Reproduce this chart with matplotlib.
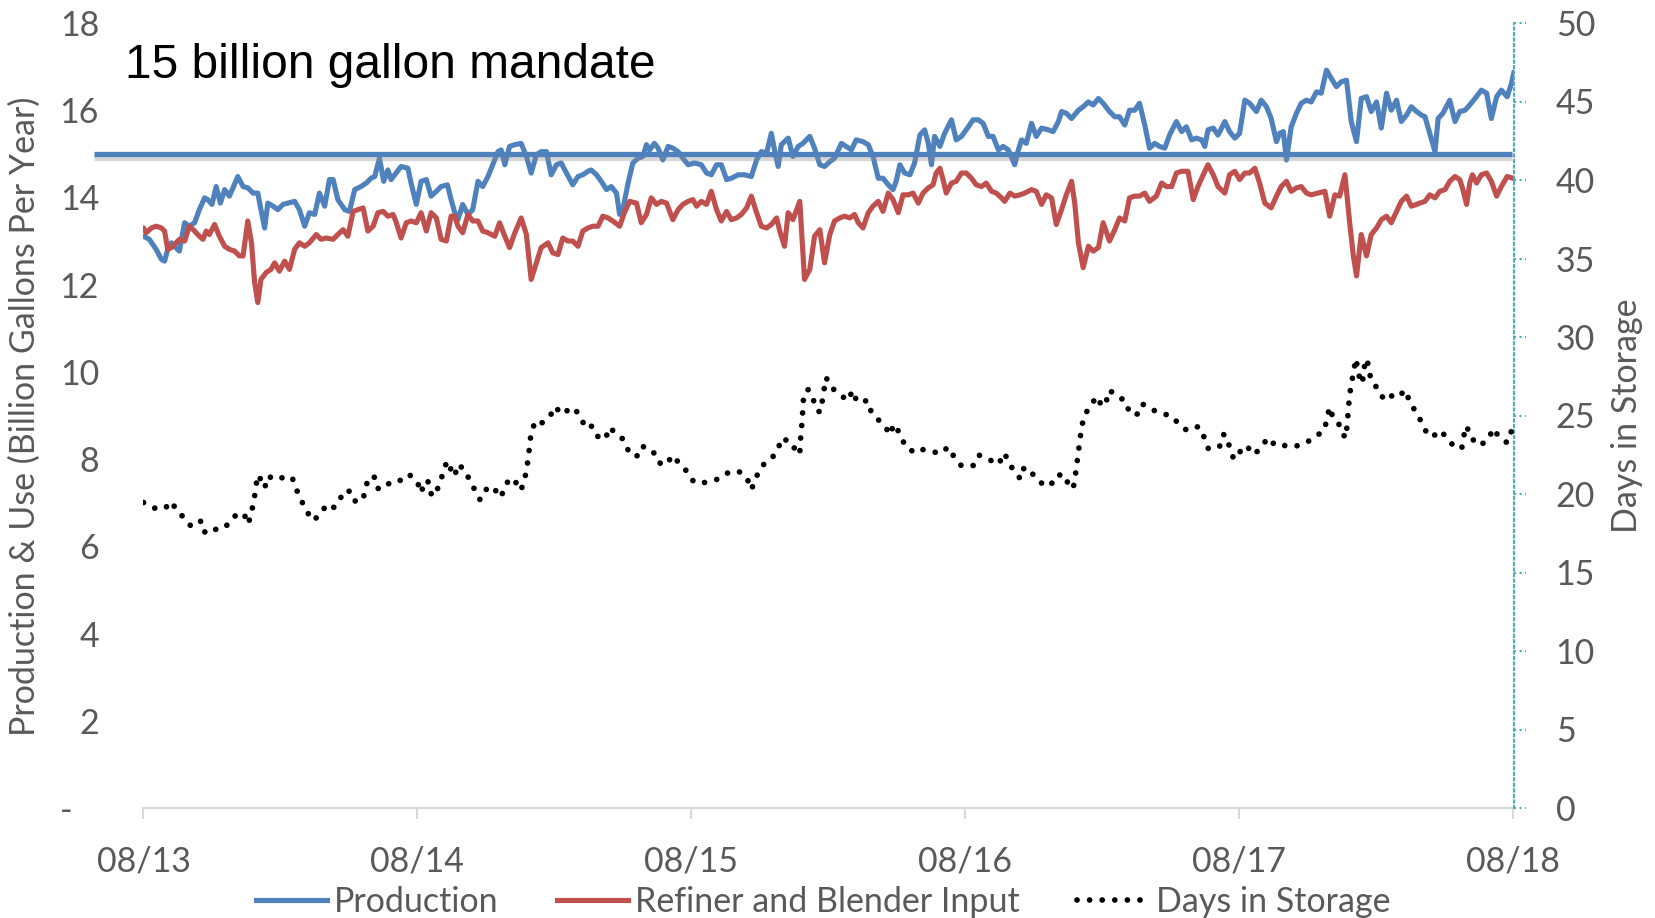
import matplotlib
matplotlib.use('Agg')
import matplotlib.pyplot as plt
import matplotlib.patheffects as pe
import matplotlib.transforms as mtransforms
from matplotlib.lines import Line2D

plt.rcParams['font.family'] = ['Lato', 'DejaVu Sans']

# ---------------- data ----------------
x_tick_weeks = [0, 52, 104, 156, 208, 260]
x_tick_labels = ['08/13', '08/14', '08/15', '08/16', '08/17', '08/18']
left_ticks = [0, 2, 4, 6, 8, 10, 12, 14, 16, 18]
left_tick_labels = ['-   ', '2', '4', '6', '8', '10', '12', '14', '16', '18']
right_ticks = [0, 5, 10, 15, 20, 25, 30, 35, 40, 45, 50]
MANDATE = 15

prod_week = [0, 1.1, 2.4, 3.4, 4.0, 4.6, 5.3, 5.9, 6.8, 7.8, 8.7, 9.7, 10.6, 11.6, 12.2, 13.0, 13.8, 14.6, 15.4, 16.3,
             17.0, 17.9, 18.9, 19.8, 20.8, 21.7, 22.3, 23.0, 23.6, 24.6, 25.5, 26.5, 27.4, 28.7, 29.6, 30.6, 31.5, 32.5, 33.4, 34.4,
             35.3, 36.0, 36.9, 38.2, 39.1, 40.1, 41.3, 42.3, 43.2, 43.9, 44.8, 45.6, 46.4, 47.0, 47.7, 48.9, 50.2, 50.8, 51.8, 52.7,
             53.7, 54.6, 55.6, 56.5, 57.7, 58.4,
             59.1, 59.7, 60.6, 61.6, 62.5, 63.5, 64.4, 65.4, 66.3, 67.3, 67.9, 68.6, 69.5, 70.5, 71.7, 72.7, 73.6, 74.6, 75.5, 76.5,
             77.4, 78.4, 79.3, 80.3, 81.5, 82.5, 83.4, 84.4, 85.0, 86.0, 86.9, 87.9, 88.8, 89.8, 90.4, 91.0, 92.0, 92.9, 93.9, 94.8,
             95.5, 96.1, 97.0, 97.7, 98.6, 99.6, 100.5, 101.5, 102.4, 103.4, 104.6, 105.9, 106.9, 107.8, 108.8, 109.7, 110.7, 111.6,
             112.9, 114.1, 115.4, 116.4, 117.3, 118.3, 119.2, 119.8, 120.5, 121.1,
             122.4, 123.3, 124.3, 125.2, 126.5, 127.4, 128.4, 129.3, 130.3, 131.2, 132.5, 133.4, 134.4, 135.3, 136.6, 137.6, 138.5,
             139.5, 140.4, 141.4, 142.3, 142.9, 143.6, 144.5, 145.5, 146.4, 147.4, 148.3, 149.0, 149.6, 150.2, 151.2, 152.1, 153.4,
             154.3, 155.3, 156.6, 157.5, 158.5, 159.4, 160.4, 161.3, 162.3, 163.2, 164.2, 165.4, 166.1, 166.7, 167.6, 168.6, 169.5,
             170.5, 171.8, 172.7, 173.7, 174.3, 175.2, 176.2, 177.5, 178.4, 179.4, 180.3, 181.3, 182.2,
             183.4, 184.4, 185.3, 186.3, 187.2, 188.2, 189.1, 190.1, 191.0, 192.0, 192.9, 193.9, 194.8, 196.1, 197.1, 198.0, 199.0,
             199.9, 200.9, 201.5, 202.1, 203.1, 204.0, 205.3, 206.2, 207.2, 208.1, 209.1, 210.0, 211.3, 212.2, 213.2, 214.1, 215.1,
             215.7, 216.4, 217.0, 217.9, 218.9, 219.8, 220.8, 221.7, 222.7, 223.6, 224.6, 225.5, 226.5, 227.4, 228.4, 229.3, 230.3,
             231.2, 232.2, 233.1, 234.1, 235.0, 236.0, 236.9, 237.9, 238.8, 239.8, 240.7, 241.7, 242.6,
             243.3, 244.2, 245.2, 245.8, 246.7, 248.0, 249.0, 249.9, 250.9, 251.8, 252.8, 254.0, 255.0, 255.9, 256.9, 257.8, 258.9,
             259.7, 260.2]
prod_val = [13.11, 13.04, 12.81, 12.58, 12.54, 12.81, 12.96, 12.88, 12.77, 13.42, 13.34, 13.42, 13.72, 13.99, 13.95, 13.84, 14.25, 13.87, 14.18, 14.03,
            14.22, 14.48, 14.25, 14.22, 14.10, 14.10, 13.72, 13.30, 13.87, 13.80, 13.72, 13.84, 13.87, 13.91, 13.72, 13.34, 13.65, 13.61, 14.10, 13.80,
            14.41, 14.41, 13.95, 13.72, 13.68, 14.18, 14.25, 14.33, 14.44, 14.48, 14.90, 14.37, 14.63, 14.41, 14.52, 14.71, 14.67, 14.33, 13.84, 14.37,
            14.41, 14.03, 14.14, 14.25, 14.29, 13.95,
            13.65, 13.49, 13.84, 13.61, 13.72, 14.37, 14.25, 14.48, 14.75, 15.05, 15.09, 14.75, 15.17, 15.21, 15.24, 14.94, 14.56, 14.98, 15.05, 15.05,
            14.52, 14.75, 14.79, 14.56, 14.29, 14.48, 14.52, 14.60, 14.63, 14.52, 14.37, 14.18, 14.25, 14.10, 13.61, 13.72, 14.33, 14.79, 14.90, 14.94,
            15.21, 15.09, 15.24, 15.13, 14.86, 15.17, 15.13, 15.05, 14.90, 14.75, 14.79, 14.75, 14.56, 14.52, 14.75, 14.75, 14.41, 14.44,
            14.52, 14.52, 14.48, 14.86, 15.05, 15.02, 15.47, 15.09, 14.71, 15.21,
            15.36, 14.94, 15.17, 15.24, 15.40, 15.13, 14.75, 14.71, 14.82, 14.90, 15.24, 15.17, 15.09, 15.32, 15.28, 15.21, 14.94,
            14.44, 14.44, 14.29, 14.18, 14.37, 14.75, 14.56, 14.52, 14.79, 15.43, 15.55, 15.24, 14.75, 15.40, 15.17, 15.47, 15.78,
            15.32, 15.40, 15.62, 15.78, 15.78, 15.70, 15.40, 15.40, 15.09, 15.17, 15.09, 14.75, 15.09, 15.32, 15.24, 15.70, 15.40,
            15.59, 15.55, 15.51, 15.74, 15.97, 15.93, 15.81, 16.00, 16.08, 16.19, 16.12, 16.27, 16.16,
            15.97, 15.85, 15.85, 15.66, 16.00, 16.00, 16.16, 15.66, 15.13, 15.24, 15.17, 15.13, 15.43, 15.74, 15.51, 15.62, 15.32,
            15.36, 15.32, 15.17, 15.55, 15.59, 15.43, 15.74, 15.51, 15.36, 15.47, 16.23, 16.16, 15.97, 16.23, 16.08, 15.81, 15.28,
            15.47, 15.51, 14.86, 15.62, 15.93, 16.16, 16.23, 16.19, 16.42, 16.39, 16.92, 16.73, 16.54, 16.65, 16.69, 15.74, 15.28,
            16.27, 16.31, 15.97, 16.19, 15.59, 16.39, 16.00, 16.23, 15.74, 15.89, 16.08, 15.97, 15.89,
            15.85, 15.47, 15.05, 15.81, 15.93, 16.23, 15.74, 15.97, 16.00, 16.12, 16.27, 16.46, 16.39, 15.81, 16.31, 16.46, 16.31,
            16.61, 16.88]

ref_week = [0, 0.5, 1.5, 2.4, 3.4, 4.0, 4.6, 5.3, 6.2, 6.8, 7.8, 8.7, 9.7, 10.6, 11.3, 11.9, 12.5, 13.5, 14.4, 15.4,
            16.3, 17.3, 18.2, 18.9, 19.8, 20.5, 21.1, 21.7, 22.3, 23.3, 24.2, 24.9, 25.8, 26.8, 27.7, 28.7, 29.6, 30.6, 31.5, 32.8,
            33.7, 34.7, 36.0, 36.9, 37.9, 38.8, 39.8, 40.7, 41.7, 42.6, 43.6, 44.5, 45.5, 46.4, 47.4, 48.0, 48.9, 49.9, 50.8, 51.8,
            52.7, 53.7, 54.6, 55.6, 56.5, 57.5, 58.4,
            59.1, 59.7, 60.6, 61.6, 62.5, 63.5, 64.4, 65.4, 66.7, 67.6, 68.6, 69.5, 70.5, 71.7, 72.7, 73.6, 74.6, 75.5, 76.8, 77.7,
            78.7, 79.6, 80.6, 81.5, 82.5, 83.4, 84.4, 85.3, 86.3, 87.2, 88.2, 89.1, 90.4, 91.3, 92.3, 93.6, 94.5, 95.5, 96.4, 97.4,
            98.3, 99.3, 100.5, 101.5, 102.4, 103.4, 104.3, 105.0, 105.9, 106.9, 107.8, 108.8, 109.7, 110.7, 111.6, 112.6, 113.5,
            114.5, 115.4, 116.4, 117.3, 118.3, 119.2, 120.2, 120.8, 121.7,
            122.4, 123.3, 124.6, 125.5, 126.5, 127.4, 128.4, 129.3, 130.3, 131.2, 132.2, 133.1, 134.1, 135.0, 135.7, 136.6, 137.6,
            138.5, 139.5, 140.4, 141.4, 142.3, 143.3, 144.2, 145.2, 146.1, 147.1, 148.0, 149.0, 149.9, 150.5, 151.2, 151.8, 152.4,
            153.4, 154.3, 155.3, 156.2, 157.2, 158.1, 159.1, 160.0, 161.0, 161.9, 162.9, 163.5, 164.5, 165.4, 166.4, 167.3, 168.6,
            169.5, 170.5, 171.4, 172.4, 173.3, 174.3, 175.2, 176.2, 176.8, 177.5, 178.4, 179.4, 180.3, 181.3, 182.2,
            183.4, 184.4, 185.3, 186.3, 187.2, 188.2, 189.1, 190.1, 191.0, 192.3, 193.3, 194.2, 195.2, 196.1, 197.1, 198.3, 199.3,
            200.2, 201.2, 202.1, 203.1, 204.0, 205.3, 206.2, 207.2, 208.1, 209.1, 210.0, 211.0, 211.9, 212.9, 214.1, 215.1, 216.0,
            217.0, 217.9, 218.9, 219.8, 220.8, 221.7, 223.0, 224.3, 225.2, 226.2, 227.1, 228.1, 229.0, 229.7, 230.3, 231.2, 232.2,
            233.1, 234.1, 235.0, 236.0, 236.9, 237.9, 238.8, 239.8, 240.7, 241.7,
            242.3, 243.3, 244.2, 245.2, 246.1, 247.1, 248.0, 249.0, 249.9, 250.5, 251.2, 251.8, 252.3, 253.1, 254.0, 255.0, 255.9,
            256.9, 257.8, 258.9, 260.0]
ref_val = [13.30, 13.19, 13.30, 13.34, 13.30, 13.23, 12.81, 12.85, 12.96, 13.04, 13.00, 13.34, 13.23, 13.11, 13.04, 13.23, 13.15, 13.38, 13.11, 12.88,
           12.81, 12.77, 12.66, 12.66, 13.46, 12.96, 12.05, 11.59, 12.12, 12.28, 12.35, 12.50, 12.31, 12.54, 12.35, 12.81, 12.96, 12.88, 12.96, 13.15,
           13.04, 13.07, 13.04, 13.15, 13.26, 13.11, 13.68, 13.72, 13.76, 13.23, 13.34, 13.65, 13.68, 13.57, 13.61, 13.42, 13.07, 13.42, 13.46, 13.42,
           13.65, 13.23, 13.65, 13.53, 13.04, 13.00, 13.57,
           13.57, 13.34, 13.19, 13.61, 13.46, 13.46, 13.23, 13.19, 13.11, 13.42, 13.11, 12.85, 13.19, 13.53, 13.15, 12.12, 12.50, 12.85, 12.96, 12.73,
           12.69, 13.07, 13.00, 13.00, 12.88, 13.23, 13.30, 13.34, 13.34, 13.57, 13.53, 13.46, 13.34, 13.65, 13.91, 13.87, 13.42, 13.61, 13.99, 13.84,
           13.91, 13.87, 13.49, 13.72, 13.84, 13.91, 13.95, 13.80, 13.91, 13.84, 14.14, 13.72, 13.46, 13.68, 13.49, 13.53, 13.61,
           13.76, 14.03, 13.65, 13.34, 13.30, 13.38, 13.53, 13.23, 12.88,
           13.65, 13.49, 13.91, 12.12, 12.35, 13.11, 13.26, 12.50, 13.15, 13.46, 13.53, 13.57, 13.53, 13.61, 13.42, 13.30, 13.65,
           13.80, 13.91, 13.68, 14.10, 13.95, 13.65, 14.06, 14.06, 14.10, 13.87, 14.10, 14.22, 14.29, 14.56, 14.67, 14.41, 14.10,
           14.33, 14.37, 14.56, 14.56, 14.44, 14.29, 14.25, 14.33, 14.14, 14.10, 13.99, 13.91, 14.10, 14.03, 14.06, 14.10, 14.18,
           14.14, 13.84, 14.06, 13.99, 13.38, 13.72, 14.06, 14.37, 13.87, 12.96, 12.39, 12.88, 12.77, 12.85, 13.42,
           13.00, 13.26, 13.53, 13.46, 13.99, 14.03, 14.03, 14.10, 13.91, 14.03, 14.33, 14.25, 14.25, 14.56, 14.60, 14.60, 13.95,
           14.25, 14.52, 14.75, 14.52, 14.25, 14.10, 14.52, 14.60, 14.41, 14.56, 14.56, 14.67, 14.33, 13.87, 13.76, 14.03, 14.25,
           14.37, 14.14, 14.22, 14.25, 14.10, 14.06, 14.10, 14.14, 13.57, 14.06, 14.03, 14.52, 13.42, 12.66, 12.20, 13.15, 12.66,
           13.15, 13.30, 13.49, 13.57, 13.42, 13.68, 13.91, 14.03, 13.80, 13.84,
           13.87, 13.91, 14.06, 13.99, 14.14, 14.18, 14.37, 14.48, 14.41, 14.18, 13.84, 14.33, 14.52, 14.33, 14.52, 14.56, 14.37,
           14.03, 14.25, 14.48, 14.44]

days_week = [0, 2.1, 4.0, 5.3, 6.4, 7.9, 9.1, 11.0, 11.7, 12.9, 14.6, 16.5, 17.8, 19.2, 19.9, 20.5, 21.0, 21.3, 21.7, 22.2,
             23.0, 23.7, 24.9, 27.1, 28.2, 29.0, 29.9, 31.0, 32.2, 33.6, 34.8, 36.2, 37.5, 38.9, 39.8, 41.5, 42.2, 42.6, 44.0, 44.6,
             46.0, 48.1, 49.4, 50.6, 52.0, 52.7, 53.4, 54.0, 54.4, 55.3, 56.1, 56.9, 57.6, 58.1, 58.8, 59.1, 59.7, 61.1, 62.0, 63.1,
             63.9, 65.1, 66.5, 67.5, 68.6, 69.3, 70.4, 71.6, 72.3, 72.7, 73.1, 73.3, 73.6, 74.4, 75.5, 77.1, 78.2, 79.3, 80.2, 81.7,
             83.0, 83.8, 84.9, 85.8, 87.7, 88.4, 89.7, 91.0, 92.0, 93.6, 94.6, 96.7, 97.7, 99.1, 100.5, 101.8, 103.3, 104.5, 106.5, 108.8,
             110.7, 112.9, 114.6, 115.3, 116.0, 116.7, 118.1, 119.8, 120.8, 121.7, 122.7, 123.9, 124.6, 124.7, 124.9, 125.1, 125.2, 125.4, 126.2, 127.2,
             128.1, 128.7, 128.9, 129.3, 129.6, 130.8, 132.6, 133.8, 134.6, 135.5, 137.5, 138.2, 139.6, 140.9, 141.7, 142.5, 143.7, 144.6, 146.5, 148.1,
             149.7, 151.2, 152.8, 154.0, 155.3, 157.5, 158.6, 160.3, 162.4, 163.3, 164.1, 165.1, 166.5, 167.2, 168.7, 170.2, 172.2, 173.1, 174.7, 175.7,
             176.5, 176.9, 177.2, 177.5, 177.8, 178.1, 178.6, 179.8, 181.0, 182.0, 182.7, 183.4, 184.8, 186.5, 187.2, 188.6, 189.6, 191.0, 192.9, 195.0,
             196.7, 198.1, 200.3, 201.4, 202.2, 204.3, 205.0, 205.6, 206.2, 207.0, 207.9, 209.3, 210.9, 212.1, 213.5, 214.7, 215.7, 217.4, 218.8, 220.5,
             222.4, 224.2, 224.7, 225.2, 225.9, 227.3, 228.1, 228.4, 228.6, 228.8, 229.0, 229.4, 229.8, 230.2, 230.6, 231.1, 231.4, 231.7, 232.0, 232.4,
             232.8, 233.5, 234.6, 235.5, 237.0, 238.4, 239.4, 240.4, 241.5, 242.7, 243.7, 244.6, 246.3, 247.7, 248.5, 249.5, 250.3, 250.7, 251.2, 252.0,
             253.7, 255.4, 256.2, 257.5, 258.9, 259.7]
days_val = [19.46, 19.10, 19.06, 19.52, 18.89, 18.44, 17.91, 18.29, 17.53, 17.77, 17.72, 18.17, 18.80, 18.63, 18.08, 18.87, 19.61, 20.39, 21.21, 20.96,
            20.39, 21.15, 20.90, 21.11, 21.07, 20.32, 19.63, 18.89, 18.30, 18.72, 19.35, 19.14, 19.80, 20.28, 19.56, 19.54, 20.26, 21.05, 21.07, 20.30,
            20.56, 20.92, 20.81, 21.19, 20.77, 20.07, 20.83, 20.83, 20.07, 19.86, 20.58, 21.34, 22.10, 21.81, 21.15, 21.17, 21.89, 21.51, 20.79, 20.16,
            19.63, 20.30, 20.47, 19.78, 20.22, 20.96, 20.90, 20.22, 20.79, 21.55, 22.34, 23.12, 23.90, 24.64, 24.49, 24.92, 25.57, 25.08, 25.27, 25.51,
            24.89, 24.30, 24.43, 23.73, 23.48, 24.24, 23.88, 23.50, 22.80, 22.36, 23.05, 22.76, 22.02, 21.83, 22.46, 21.91, 21.40, 20.75, 20.73, 20.92,
            21.32, 21.47, 21.02, 20.28, 20.67, 21.40, 22.04, 22.46, 23.16, 23.60, 22.99, 22.91, 22.53, 23.31, 24.09, 24.87, 25.66, 26.42, 26.65, 25.97,
            25.25, 25.27, 26.06, 26.84, 27.41, 26.73, 26.23, 25.95, 26.59, 25.85, 25.95, 25.19, 24.70, 24.26, 23.77, 24.45, 23.79, 23.05, 22.61, 22.84,
            22.72, 22.57, 22.99, 22.31, 21.79, 21.81, 22.48, 22.23, 21.89, 22.61, 22.23, 21.51, 20.96, 21.70, 21.32, 20.73, 20.51, 21.15, 21.26, 20.56,
            20.33, 21.13, 21.89, 22.67, 23.46, 24.24, 24.98, 25.63, 26.21, 25.57, 25.80, 26.61, 26.25, 25.91, 25.15, 25.06, 25.74, 25.47, 25.15, 25.00,
            24.43, 24.05, 24.30, 23.60, 22.86, 23.03, 23.79, 23.73, 22.97, 22.21, 22.59, 23.10, 22.51, 22.95, 23.58, 23.16, 23.01, 23.14, 23.05, 23.22,
            23.62, 24.07, 24.83, 25.53, 24.79, 24.32, 23.56, 24.00, 24.81, 25.57, 26.35, 27.14, 27.92, 28.62, 27.83, 27.07, 27.07, 27.83, 28.60, 28.41,
            27.62, 26.99, 26.67, 25.97, 26.25, 26.16, 26.63, 25.93, 25.23, 24.56, 23.84, 23.62, 24.05, 23.43, 23.16, 23.22, 22.95, 23.75, 24.34, 23.58,
            23.08, 23.50, 24.17, 23.58, 23.27, 24.00]

# ---------------- style ----------------
GRAY = '#595959'
AXIS_GRAY = '#D9D9D9'
BLUE = '#4F81BD'
RED = '#C0504D'
RIGHT_AXIS = '#4BACC6'
FS = 24.5
W, H = 1656, 918
LW = 3.7

fig = plt.figure(figsize=(W / 100, H / 100), dpi=100)
L, R, B, T = 143.5 / W, 1514 / W, 1 - 808 / H, 1 - 23 / H
ax = fig.add_axes([L, B, R - L, T - B])

ax.plot(prod_week, prod_val, color=BLUE, lw=LW, solid_joinstyle='round', solid_capstyle='round', zorder=3)
ax.plot(ref_week, ref_val, color=RED, lw=LW, solid_joinstyle='round', solid_capstyle='round', zorder=3)
ax.set_xlim(0, 260.2)
ax.set_ylim(0, 18)
ax.set_xticks(x_tick_weeks)
ax.set_xticklabels(x_tick_labels)
ax.set_yticks(left_ticks)
ax.set_yticklabels(left_tick_labels)
for s in ['top', 'left', 'right']:
    ax.spines[s].set_visible(False)
ax.spines['bottom'].set_color(AXIS_GRAY)
ax.spines['bottom'].set_linewidth(1.5)
ax.tick_params(axis='x', direction='out', length=8, width=1.5, color=AXIS_GRAY,
               labelsize=FS, labelcolor=GRAY, pad=19)
ax.tick_params(axis='y', length=0, labelsize=FS, labelcolor=GRAY, pad=32)

ax2 = ax.twinx()
dots_style = dict(color='black', lw=4.1, linestyle=(0, (0.01, 2.2)), dash_capstyle='round')
ax2.plot(days_week, days_val, **dots_style, zorder=3)
ax2.set_ylim(0, 50)
ax2.set_yticks(right_ticks)
for s in ['top', 'left', 'bottom']:
    ax2.spines[s].set_visible(False)
ax2.spines['right'].set_color(RIGHT_AXIS)
ax2.spines['right'].set_linestyle(':')
ax2.spines['right'].set_linewidth(1.5)
ax2.tick_params(axis='y', length=0, labelsize=FS, labelcolor=GRAY, pad=30)
ax2.hlines(right_ticks, 1.0, 1.0 + 12 / (1514 - 143.5), transform=ax2.get_yaxis_transform(),
           colors=RIGHT_AXIS, linestyles=':', lw=1.5, clip_on=False)

# mandate line (drawn shape with shadow)
trans = mtransforms.blended_transform_factory(ax.transAxes, ax.transData)
MANDATE_X0, MANDATE_X1 = -0.0358, 0.9989
ax2.plot([MANDATE_X0, MANDATE_X1], [MANDATE, MANDATE], transform=trans, color=BLUE, lw=3.8,
         solid_capstyle='butt', clip_on=False, zorder=6,
         path_effects=[pe.SimpleLineShadow(offset=(0, -3), shadow_color='#8c8c8c', alpha=0.35),
                       pe.Normal()])

# texts
fig.text(125 / W, 1 - 78 / H, '15 billion gallon mandate', fontsize=34.5, color='black',
         family=['Liberation Sans', 'DejaVu Sans'], va='baseline', ha='left')
fig.text(25 / W, 1 - 416 / H, 'Production & Use (Billion Gallons Per Year)', rotation=90,
         fontsize=FS, color=GRAY, ha='center', va='center')
fig.text(1627 / W, 1 - 416 / H, 'Days in Storage', rotation=90,
         fontsize=FS, color=GRAY, ha='center', va='center')

handles = [Line2D([], [], color=BLUE, lw=LW),
           Line2D([], [], color=RED, lw=LW),
           Line2D([], [], **dots_style)]
fig.legend(handles, ['Production', 'Refiner and Blender Input', 'Days in Storage'],
           loc='center', bbox_to_anchor=(0.497, 1 - 902 / H), ncol=3, frameon=False,
           fontsize=FS, labelcolor=GRAY, handlelength=2.1, handletextpad=0.2, columnspacing=1.7)

fig.savefig('out.png', dpi=100)
